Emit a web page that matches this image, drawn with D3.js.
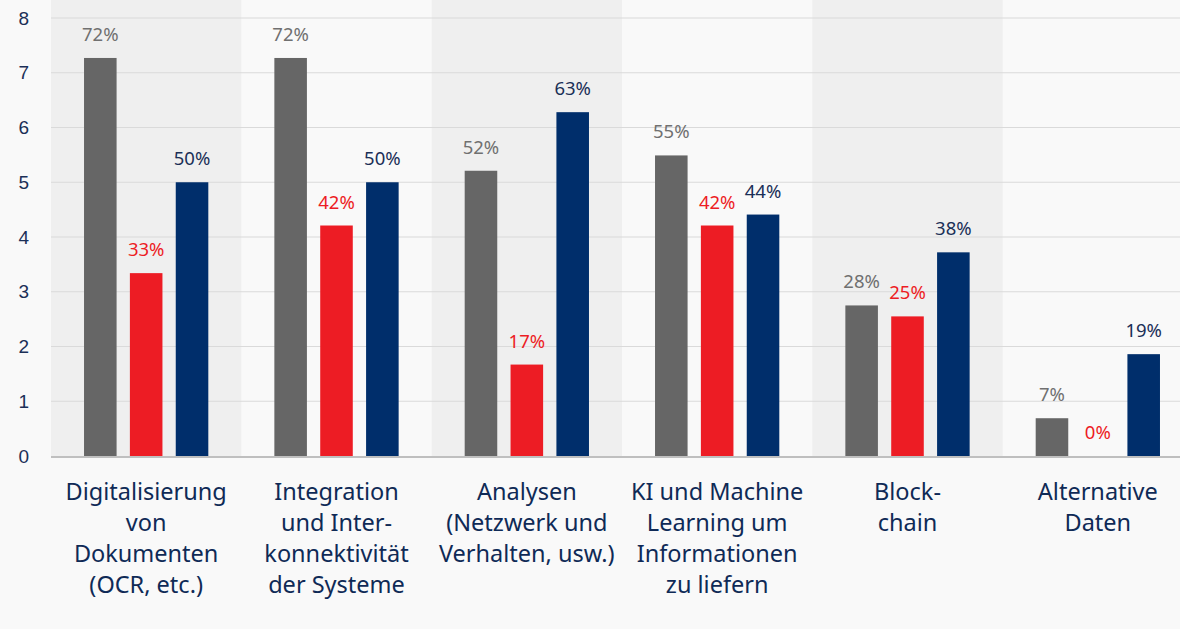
<!DOCTYPE html>
<html>
<head>
<meta charset="utf-8">
<script src="https://cdn.jsdelivr.net/npm/d3@7"></script>
<style>
  html, body { margin: 0; padding: 0; background: #f9f9f9; }
  svg { display: block; font-family: "Noto Sans", Lato, sans-serif; }
</style>
</head>
<body>
<svg id="chart"></svg>
<script>
// categories, with the line breaks used in the picture
var categories = [
  ["Digitalisierung", "von", "Dokumenten", "(OCR, etc.)"],
  ["Integration", "und Inter-", "konnektivität", "der Systeme"],
  ["Analysen", "(Netzwerk und", "Verhalten, usw.)"],
  ["KI und Machine", "Learning um", "Informationen", "zu liefern"],
  ["Block-", "chain"],
  ["Alternative", "Daten"]
];
var seriesNames = ["grau", "rot", "blau"];
var grauValues = [7.27, 7.27, 5.21, 5.49, 2.75, 0.69];
var rotValues  = [3.34, 4.21, 1.67, 4.21, 2.55, 0];
var blauValues = [5.0, 5.0, 6.28, 4.41, 3.72, 1.86];
var grauLabels = ["72%", "72%", "52%", "55%", "28%", "7%"];
var rotLabels  = ["33%", "42%", "17%", "42%", "25%", "0%"];
var blauLabels = ["50%", "50%", "63%", "44%", "38%", "19%"];
var yTicks = [0, 1, 2, 3, 4, 5, 6, 7, 8];

var width = 1180, height = 629;
var mLeft = 51, mRight = 1193, mTop = 18, mBottom = 456;

var barColors = { grau: "#666666", rot: "#ed1c24", blau: "#002e6b" };
var labelColors = { grau: "#707070", rot: "#ed1c24", blau: "#1b2f57" };

var svg = d3.select("#chart").attr("width", width).attr("height", height);

var x0 = d3.scaleBand()
  .domain(d3.range(categories.length))
  .range([mLeft, mRight]);

var x1 = d3.scaleBand()
  .domain(seriesNames)
  .range([0, x0.bandwidth()])
  .paddingInner(0.29)
  .paddingOuter(0.72);

var y = d3.scaleLinear().domain([0, 8]).range([mBottom, mTop]);

// alternating column shading
svg.selectAll(".band")
  .data(d3.range(categories.length).filter(i => i % 2 === 0))
  .enter().append("rect")
    .attr("x", i => x0(i))
    .attr("y", 0)
    .attr("width", x0.bandwidth())
    .attr("height", mBottom)
    .attr("fill", "#efefef");

// grid lines
svg.selectAll(".grid")
  .data(yTicks.filter(t => t > 0))
  .enter().append("line")
    .attr("x1", mLeft).attr("x2", width)
    .attr("y1", d => y(d)).attr("y2", d => y(d))
    .attr("stroke", "#dadada")
    .attr("stroke-width", 1.2);

// y axis
var yAxis = svg.append("g")
  .attr("transform", "translate(29,0)")
  .call(d3.axisLeft(y).tickValues(yTicks).tickSize(0).tickPadding(0));
yAxis.select(".domain").remove();
yAxis.selectAll("text")
  .attr("font-size", 19)
  .attr("fill", "#1b2f57")
  .attr("font-family", "inherit");

var rows = categories.map((c, i) => ({
  i: i,
  vals: [
    { key: "grau", v: grauValues[i], label: grauLabels[i] },
    { key: "rot", v: rotValues[i], label: rotLabels[i] },
    { key: "blau", v: blauValues[i], label: blauLabels[i] }
  ]
}));

var groups = svg.selectAll(".group")
  .data(rows)
  .enter().append("g")
    .attr("transform", d => "translate(" + x0(d.i) + ",0)");

groups.selectAll("rect")
  .data(d => d.vals)
  .enter().append("rect")
    .attr("x", d => x1(d.key))
    .attr("y", d => y(d.v))
    .attr("width", x1.bandwidth())
    .attr("height", d => y(0) - y(d.v))
    .attr("fill", d => barColors[d.key]);

groups.selectAll(".val")
  .data(d => d.vals)
  .enter().append("text")
    .attr("x", d => x1(d.key) + x1.bandwidth() / 2)
    .attr("y", d => y(d.v) - 17)
    .attr("text-anchor", "middle")
    .attr("font-size", 18.5)
    .attr("fill", d => labelColors[d.key])
    .text(d => d.label);

// baseline
svg.append("line")
  .attr("x1", mLeft).attr("x2", width)
  .attr("y1", y(0) + 1).attr("y2", y(0) + 1)
  .attr("stroke", "#bfbfbf")
  .attr("stroke-width", 2);

// category labels
svg.selectAll(".cat")
  .data(categories)
  .enter().append("text")
    .attr("text-anchor", "middle")
    .attr("font-size", 23.5)
    .attr("fill", "#0f2a56")
    .each(function(lines, i) {
      d3.select(this).selectAll("tspan")
        .data(lines)
        .enter().append("tspan")
          .attr("x", x0(i) + x0.bandwidth() / 2)
          .attr("y", (d, k) => 500 + k * 31)
          .text(d => d);
    });
</script>
</body>
</html>
